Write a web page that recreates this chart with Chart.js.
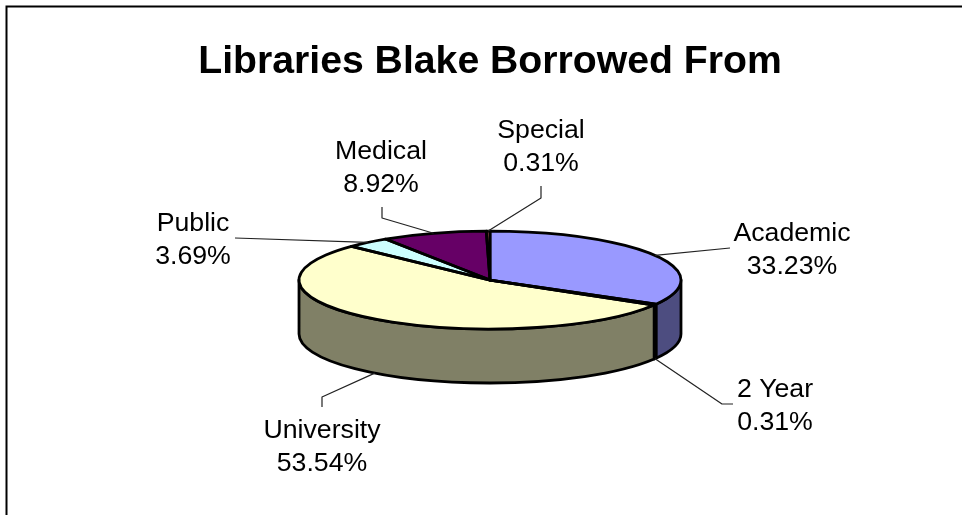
<!DOCTYPE html>
<html>
<head>
<meta charset="utf-8">
<style>html,body{margin:0;padding:0;background:#fff}canvas{display:block}</style>
<script src="https://cdn.jsdelivr.net/npm/chart.js@4"></script>
</head>
<body>
<canvas id="c" width="962" height="515"></canvas>
<script>
const chartTitle = 'Libraries Blake Borrowed From';
const categories = ['Academic', '2 Year', 'University', 'Public', 'Medical', 'Special'];
const shares = [33.23, 0.31, 53.54, 3.69, 8.92, 0.31];
const topColors = ['#9999FF', '#993366', '#FFFFCC', '#CCFFFF', '#660066', '#FF8080'];
const sideColors = ['#4D4D80', '#4D1A33', '#808066', '#668080', '#330033', '#804040'];

// Presentation settings (offsets are relative to the pie centre).
const TILT = 49 / 191, DEPTH = 54, OUTLINE = 2.8;
const FONT = '"Liberation Sans", Arial, sans-serif';
const labelLayout = [
  {text: [302, -39], elbow: [[240, -32]], rim: false},
  {text: [285, 117], elbow: [[232, 124], [243, 124]], rim: true},
  {text: [-168, 158], elbow: [[-168, 117], [-168, 127]], rim: true},
  {text: [-297, -49], elbow: [[-255, -42]], rim: false},
  {text: [-109, -121], elbow: [[-108, -62], [-108, -73]], rim: false},
  {text: [51, -142], elbow: [[51, -82], [51, -94]], rim: false}
];

function geom(chart) {
  const a = chart.getDatasetMeta(0).data[0];
  return {cx: a.x, cy: a.y, rx: a.outerRadius, ry: a.outerRadius * TILT};
}

const pie3d = {
  id: 'pie3d',
  beforeDraw(chart) {
    const c = chart.ctx;
    c.save();
    c.strokeStyle = '#000'; c.lineWidth = 2;
    c.beginPath(); c.moveTo(6.5, 515); c.lineTo(6.5, 6.5); c.lineTo(962, 6.5); c.stroke();
    c.restore();
  },
  beforeDatasetsDraw(chart) {
    const c = chart.ctx, g = geom(chart);
    c.save();
    c.lineWidth = OUTLINE; c.strokeStyle = '#000'; c.lineJoin = 'round';
    chart.getDatasetMeta(0).data.forEach((arc, i) => {
      const s = Math.max(arc.startAngle, 0), e = Math.min(arc.endAngle, Math.PI);
      if (e <= s) return;
      c.beginPath();
      c.ellipse(g.cx, g.cy, g.rx, g.ry, 0, s, e);
      c.ellipse(g.cx, g.cy + DEPTH, g.rx, g.ry, 0, e, s, true);
      c.closePath();
      c.fillStyle = sideColors[i];
      c.fill(); c.stroke();
    });
    c.restore();
  },
  beforeDatasetDraw(chart) {
    const c = chart.ctx, g = geom(chart);
    c.save();
    c.translate(g.cx, g.cy); c.scale(1, TILT); c.translate(-g.cx, -g.cy);
  },
  afterDatasetDraw(chart) { chart.ctx.restore(); },
  afterDatasetsDraw(chart) {
    const c = chart.ctx, g = geom(chart), arcs = chart.getDatasetMeta(0).data;
    c.save();
    c.lineWidth = OUTLINE; c.strokeStyle = '#000'; c.lineJoin = 'round';
    arcs.forEach(arc => {
      c.beginPath();
      c.moveTo(g.cx, g.cy);
      c.ellipse(g.cx, g.cy, g.rx, g.ry, 0, arc.startAngle, arc.endAngle);
      c.closePath();
      c.stroke();
    });
    // leader lines and labels
    arcs.forEach((arc, i) => {
      const L = labelLayout[i], m = (arc.startAngle + arc.endAngle) / 2;
      c.beginPath();
      c.lineWidth = 1.2; c.strokeStyle = '#222';
      c.moveTo(g.cx + g.rx * Math.cos(m), g.cy + g.ry * Math.sin(m) + (L.rim ? DEPTH : 0));
      L.elbow.forEach(p => c.lineTo(g.cx + p[0], g.cy + p[1]));
      c.stroke();
      c.fillStyle = '#000';
      c.font = '26.7px ' + FONT;
      c.textAlign = 'center'; c.textBaseline = 'alphabetic';
      c.fillText(categories[i], g.cx + L.text[0], g.cy + L.text[1]);
      c.fillText(shares[i].toFixed(2) + '%', g.cx + L.text[0], g.cy + L.text[1] + 32.5);
    });
    c.restore();
  }
};

new Chart(document.getElementById('c'), {
  type: 'pie',
  data: {
    labels: categories,
    datasets: [{data: shares, backgroundColor: topColors, borderWidth: 0, hoverOffset: 0}]
  },
  options: {
    responsive: false,
    animation: false,
    events: [],
    layout: {padding: {left: 18, right: 0, top: 0, bottom: 44}},
    plugins: {
      legend: {display: false},
      tooltip: {enabled: false},
      title: {
        display: true, text: chartTitle, color: '#000',
        font: {family: FONT, size: 39.2, weight: 'bold', lineHeight: 1.2},
        padding: {top: 39, bottom: 3}
      }
    }
  },
  plugins: [pie3d]
});
</script>
</body>
</html>
